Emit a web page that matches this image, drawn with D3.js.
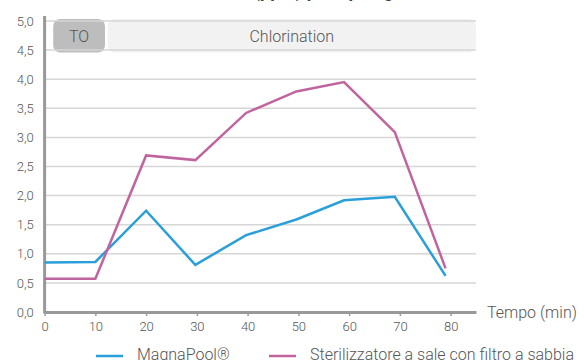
<!DOCTYPE html>
<html>
<head>
<meta charset="utf-8">
<script src="https://cdn.jsdelivr.net/npm/d3@7"></script>
<style>
  html, body { margin: 0; padding: 0; background: #fff; }
  svg { display: block; font-family: Roboto, "Liberation Sans", sans-serif; }
</style>
</head>
<body>
<svg id="chart" width="584" height="360"></svg>
<script>
// Sampling times (minutes)
const times = [0, 10, 20, 29.7, 39.7, 49.6, 59, 69, 79];
// Free chlorine readings for each system
const magnaPool = [0.85, 0.86, 1.74, 0.81, 1.32, 1.59, 1.92, 1.98, 0.62];
const sterilizzatore = [0.57, 0.57, 2.69, 2.61, 3.42, 3.79, 3.95, 3.09, 0.75];
const seriesNames = ["MagnaPool®", "Sterilizzatore a sale con filtro a sabbia"];
const seriesColors = ["#2b9fd9", "#c0649f"];
const xTicks = [0, 10, 20, 30, 40, 50, 60, 70, 80];
const yTicks = [0, 0.5, 1, 1.5, 2, 2.5, 3, 3.5, 4, 4.5, 5];
const phases = [
  { label: "TO", from: 1.7, to: 11.9, fill: "#bdbdbd" },
  { label: "Chlorination", from: 12.4, to: 85, fill: "#f2f2f2" }
];
const titleText = "Livello di cloro (ppm) per tipologia";

const svg = d3.select("#chart");
const x = d3.scaleLinear().domain([0, 85]).range([44.6, 476]);
const y = d3.scaleLinear().domain([0, 5]).range([312, 21]);
const fmt = d => d.toFixed(1).replace(".", ",");

// Title (runs off the top edge)
svg.append("text")
  .attr("x", 270).attr("y", -3)
  .attr("text-anchor", "middle")
  .attr("font-size", 18).attr("font-weight", "bold")
  .attr("fill", "#444")
  .text(titleText);

// Phase bands
const bandTop = y(5) - 2, bandBottom = y(4.5) + 2.5;
phases.forEach(p => {
  svg.append("rect")
    .attr("x", x(p.from)).attr("y", bandTop)
    .attr("width", x(p.to) - x(p.from)).attr("height", bandBottom - bandTop)
    .attr("rx", 7).attr("fill", p.fill);
  svg.append("text")
    .attr("x", (x(p.from) + x(p.to)) / 2).attr("y", (bandTop + bandBottom) / 2)
    .attr("dy", "0.36em").attr("text-anchor", "middle")
    .attr("font-size", 16).attr("font-weight", 300).attr("fill", "#555")
    .text(p.label);
});

// Horizontal gridlines
svg.append("g")
  .selectAll("line")
  .data(yTicks.filter(d => d > 0))
  .join("line")
  .attr("x1", x(0)).attr("x2", x(85))
  .attr("y1", d => y(d)).attr("y2", d => y(d))
  .attr("stroke", "#d6d6d6").attr("stroke-width", 1.5);

// Y axis
const yAxis = svg.append("g")
  .attr("transform", `translate(${x(0)},0)`)
  .call(d3.axisLeft(y).tickValues(yTicks).tickFormat(fmt).tickSize(0).tickPadding(11));
yAxis.select(".domain").remove();
yAxis.selectAll("text").attr("font-size", 13).attr("fill", "#555").attr("font-family", "Roboto, sans-serif").attr("font-weight", 300);
svg.append("line")
  .attr("x1", x(0)).attr("x2", x(0))
  .attr("y1", 16).attr("y2", y(0) + 1.5)
  .attr("stroke", "#999").attr("stroke-width", 3);

// X axis
const xAxis = svg.append("g")
  .attr("transform", `translate(0,${y(0)})`)
  .call(d3.axisBottom(x).tickValues(xTicks).tickFormat(d3.format("d")).tickSizeOuter(0).tickSizeInner(4).tickPadding(6));
xAxis.select(".domain").attr("stroke", "#999").attr("stroke-width", 3);
xAxis.selectAll(".tick line").attr("stroke", "#999").attr("stroke-width", 1.5);
xAxis.selectAll("text").attr("font-size", 13).attr("fill", "#555").attr("font-family", "Roboto, sans-serif").attr("font-weight", 300);
svg.append("text")
  .attr("x", x(85) + 11).attr("y", y(0))
  .attr("dy", "0.36em")
  .attr("font-size", 16).attr("font-weight", 300).attr("fill", "#555")
  .text("Tempo (min)");

// Lines
const line = d3.line().x((d, i) => x(times[i])).y(d => y(d));
[magnaPool, sterilizzatore].forEach((vals, k) => {
  svg.append("path")
    .datum(vals)
    .attr("d", line)
    .attr("fill", "none")
    .attr("stroke", seriesColors[k])
    .attr("stroke-width", 2.5)
    .attr("stroke-linejoin", "miter");
});

// Legend
const legendX = [96, 269];
seriesNames.forEach((name, k) => {
  svg.append("line")
    .attr("x1", legendX[k]).attr("x2", legendX[k] + 27)
    .attr("y1", 356).attr("y2", 356)
    .attr("stroke", seriesColors[k]).attr("stroke-width", 2.5);
  svg.append("text")
    .attr("x", legendX[k] + 41).attr("y", 354)
    .attr("dy", "0.36em")
    .attr("font-size", 16).attr("font-weight", 300).attr("fill", "#555")
    .text(name);
});
</script>
</body>
</html>
